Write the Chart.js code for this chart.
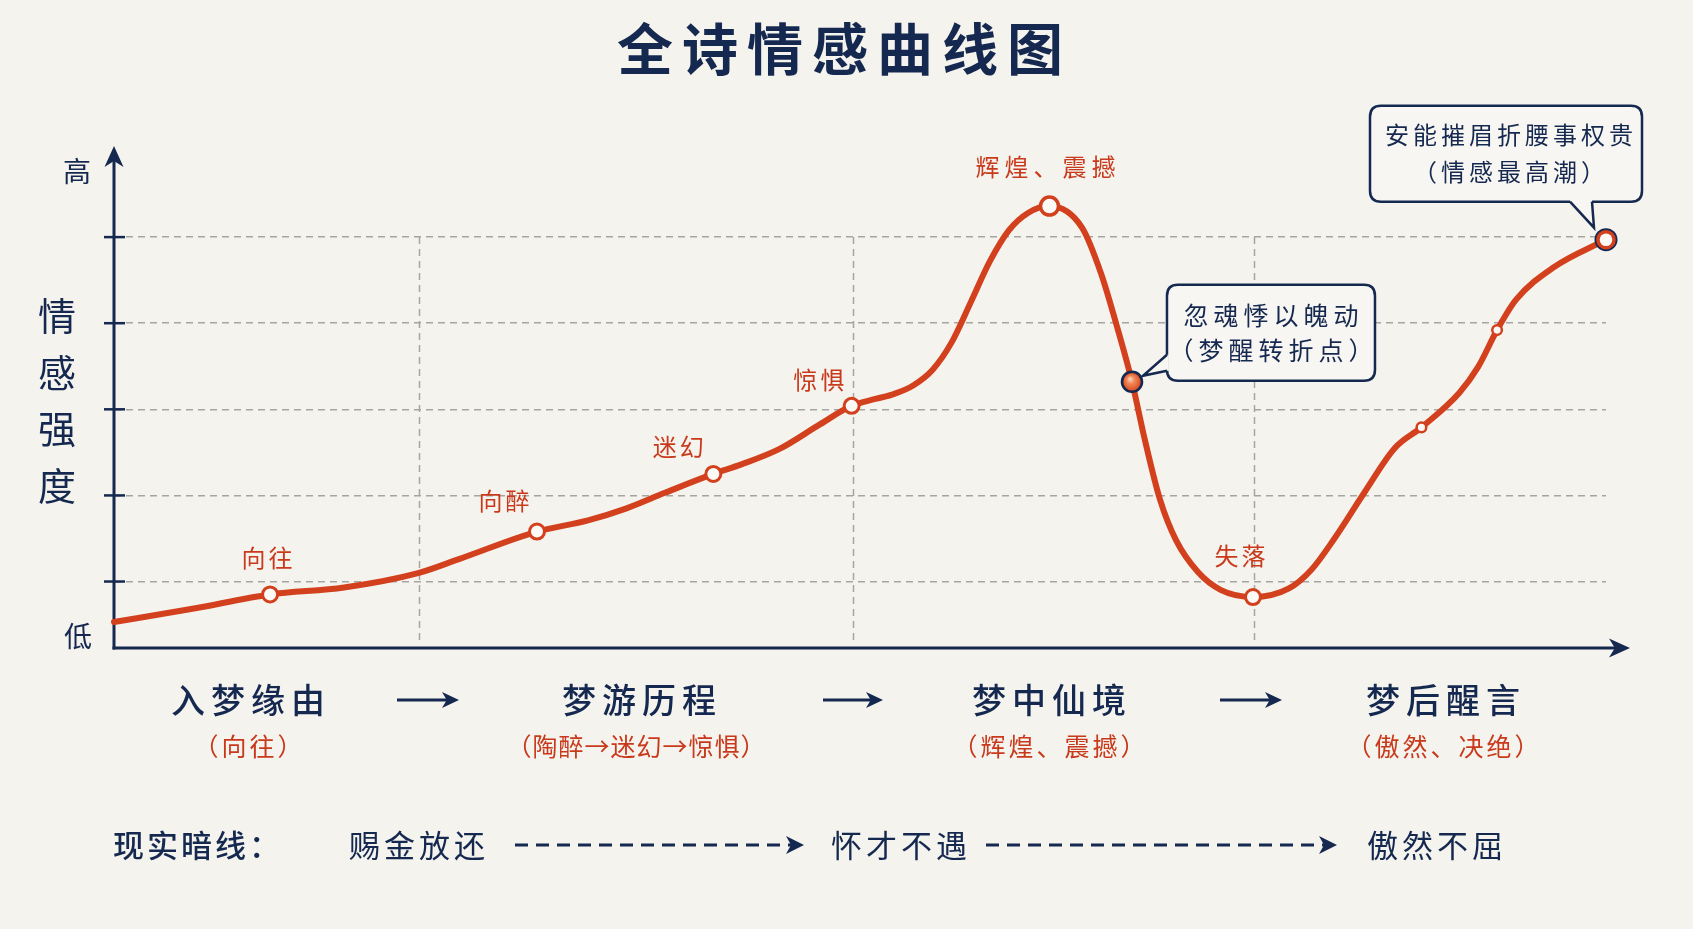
<!DOCTYPE html>
<html lang="zh-CN">
<head>
<meta charset="utf-8">
<title>全诗情感曲线图</title>
<script src="https://cdn.jsdelivr.net/npm/chart.js@4.4.1/dist/chart.umd.min.js"></script>
<style>
html,body{margin:0;padding:0;background:#f4f3ee;overflow:hidden;}
canvas{display:block;}
</style>
</head>
<body>
<canvas id="c" width="1693" height="929"></canvas>
<script>
// ---------------- data ----------------
const chartTitle = '全诗情感曲线图';
const yAxisTitle = ['情', '感', '强', '度'];
const yHighLabel = '高';
const yLowLabel = '低';

// emotional curve, progress of the poem (0–100) vs. intensity
const progress = [0, 5.16, 10.46, 15.42, 20.44, 23.12, 28.35, 31.77, 34.35, 36.92,
  40.17, 42.05, 44.61, 47.18, 49.44, 51.03, 52.3, 53.59, 54.87, 56.15,
  57.44, 58.71, 59.99, 61.26, 62.70, 64.88, 66.15, 67.16, 68.23, 69.1,
  70.11, 71.18, 72.65, 74.2, 76.34, 78.75, 80.27, 81.8, 83.83, 85.85,
  87.63, 90.16, 91.42, 92.7, 93.96, 96.5, 100];
const intensity = [0.53, 0.68, 0.85, 0.93, 1.10, 1.26, 1.58, 1.71, 1.85, 2.03,
  2.25, 2.36, 2.54, 2.81, 3.04, 3.12, 3.18, 3.28, 3.46, 3.78,
  4.25, 4.72, 5.08, 5.28, 5.36, 5.11, 4.58, 4.00, 3.32, 2.64,
  1.95, 1.48, 1.11, 0.90, 0.82, 0.92, 1.14, 1.50, 2.04, 2.55,
  2.79, 3.19, 3.49, 3.92, 4.27, 4.65, 4.97];

// key moments on the curve
const keyNames = ['向往', '向醉', '迷幻', '惊惧', '辉煌、震撼', '', '失落', '', '', ''];
const keyProgress = [10.46, 28.35, 40.17, 49.44, 62.70, 68.23, 76.34, 87.63, 92.7, 100];
const keyIntensity = [0.85, 1.58, 2.25, 3.04, 5.36, 3.32, 0.82, 2.79, 3.92, 4.97];

const turnNote = ['忽魂悸以魄动', '（梦醒转折点）'];
const climaxNote = ['安能摧眉折腰事权贵', '（情感最高潮）'];

const gridLevels = [1, 2, 3, 4, 5];
const stageBounds = [20.44, 49.53, 76.4];
const stageNames = ['入梦缘由', '梦游历程', '梦中仙境', '梦后醒言'];
const stageMoods = ['（向往）', '（陶醉→迷幻→惊惧）', '（辉煌、震撼）', '（傲然、决绝）'];
const realityLabel = '现实暗线：';
const realitySteps = ['赐金放还', '怀才不遇', '傲然不屈'];

// ---------------- style ----------------
const FONT = '"Noto Sans CJK SC", "Noto Sans", sans-serif';
const NAVY = '#15284f';
const RED = '#d3401d';
const LABEL_RED = '#c93a1c';
const GRID = '#a5a5a2';
const PAPER = '#f4f3ee';
const BOX_FILL = '#f7f6f2';

function txt(ctx, s, x, y, size, color, weight, spacing, align) {
  ctx.save();
  ctx.font = (weight || 'normal') + ' ' + size + 'px ' + FONT;
  ctx.fillStyle = color;
  ctx.textAlign = align || 'center';
  ctx.textBaseline = 'middle';
  const sp = spacing || 0;
  ctx.letterSpacing = sp + 'px';
  const dx = (align === 'left') ? 0 : sp / 2;
  ctx.fillText(s, x + dx, y);
  ctx.restore();
}

function arrow(ctx, x1, y1, x2, y2, o) {
  const ang = Math.atan2(y2 - y1, x2 - x1);
  const L = o.head, W = o.half;
  ctx.save();
  ctx.strokeStyle = NAVY; ctx.fillStyle = NAVY;
  ctx.lineWidth = o.lw;
  ctx.setLineDash(o.dash || []);
  ctx.beginPath();
  ctx.moveTo(x1, y1);
  ctx.lineTo(x2 - Math.cos(ang) * L * 0.7, y2 - Math.sin(ang) * L * 0.7);
  ctx.stroke();
  ctx.setLineDash([]);
  ctx.translate(x2, y2); ctx.rotate(ang);
  ctx.beginPath();
  ctx.moveTo(0, 0); ctx.lineTo(-L, -W); ctx.lineTo(-L * 0.72, 0); ctx.lineTo(-L, W);
  ctx.closePath(); ctx.fill();
  ctx.restore();
}

function roundRect(ctx, l, t, r, b, rad) {
  ctx.beginPath();
  ctx.moveTo(l + rad, t);
  ctx.lineTo(r - rad, t); ctx.quadraticCurveTo(r, t, r, t + rad);
  ctx.lineTo(r, b - rad); ctx.quadraticCurveTo(r, b, r - rad, b);
  ctx.lineTo(l + rad, b); ctx.quadraticCurveTo(l, b, l, b - rad);
  ctx.lineTo(l, t + rad); ctx.quadraticCurveTo(l, t, l + rad, t);
  ctx.closePath();
}

function callout(ctx, box, tail, lines, size, spacing) {
  ctx.save();
  ctx.lineWidth = 2.5; ctx.strokeStyle = NAVY; ctx.fillStyle = BOX_FILL;
  roundRect(ctx, box.l, box.t, box.r, box.b, 11);
  ctx.fill(); ctx.stroke();
  ctx.beginPath();
  ctx.moveTo(tail[0][0], tail[0][1]); ctx.lineTo(tail[1][0], tail[1][1]); ctx.lineTo(tail[2][0], tail[2][1]);
  ctx.closePath(); ctx.fill();
  ctx.beginPath();
  ctx.moveTo(tail[0][0], tail[0][1]); ctx.lineTo(tail[2][0], tail[2][1]);
  ctx.lineWidth = 3.5; ctx.strokeStyle = BOX_FILL; ctx.stroke();
  ctx.beginPath();
  ctx.moveTo(tail[0][0], tail[0][1]); ctx.lineTo(tail[1][0], tail[1][1]); ctx.lineTo(tail[2][0], tail[2][1]);
  ctx.lineWidth = 2.5; ctx.strokeStyle = NAVY; ctx.lineJoin = 'miter'; ctx.stroke();
  ctx.restore();
  const cx = (box.l + box.r) / 2;
  txt(ctx, lines[0], cx + lines.dx, lines.y0, size, NAVY, 'normal', spacing);
  txt(ctx, lines[1], cx + lines.dx, lines.y1, size, NAVY, 'normal', spacing);
}

// label offsets relative to marker centre (layout only)
const labelOffsets = [[-3, -37], [-33, -31], [-35, -27], [-33, -26], [-4, -39], [0, 0], [-13, -41], [0, 0], [0, 0], [0, 0]];

const decorPlugin = {
  id: 'decor',
  beforeDraw(chart) {
    const ctx = chart.ctx;
    ctx.save();
    ctx.fillStyle = PAPER;
    ctx.fillRect(0, 0, chart.width, chart.height);
    ctx.restore();
  },
  beforeDatasetsDraw(chart) {
    const ctx = chart.ctx;
    const xs = chart.scales.x, ys = chart.scales.y;
    const area = chart.chartArea;
    ctx.save();
    ctx.strokeStyle = GRID; ctx.lineWidth = 1.5; ctx.setLineDash([7, 5]);
    stageBounds.forEach(v => {
      const px = Math.round(xs.getPixelForValue(v)) + 0.5;
      ctx.beginPath();
      ctx.moveTo(px, ys.getPixelForValue(gridLevels[gridLevels.length - 1]));
      ctx.lineTo(px, area.bottom - 8);
      ctx.stroke();
    });
    ctx.restore();
    const ox = xs.getPixelForValue(xs.min), oy = ys.getPixelForValue(ys.min);
    arrow(ctx, ox, oy + 1.5, ox, area.top, { lw: 3, head: 21, half: 9.5 });
    arrow(ctx, ox - 1.5, oy, xs.getPixelForValue(xs.max) + 24, oy, { lw: 3, head: 21, half: 9.5 });
    ctx.save();
    ctx.strokeStyle = NAVY; ctx.lineWidth = 2.5;
    gridLevels.forEach(v => {
      const py = ys.getPixelForValue(v);
      ctx.beginPath(); ctx.moveTo(ox - 10, py); ctx.lineTo(ox + 11, py); ctx.stroke();
    });
    ctx.restore();
  },
  afterDatasetsDraw(chart) {
    const ctx = chart.ctx;
    const meta = chart.getDatasetMeta(0);
    const pts = meta.data;

    // turning point marker
    const tp = pts[5];
    ctx.save();
    const g = ctx.createRadialGradient(tp.x - 2, tp.y - 3, 0.5, tp.x, tp.y, 10);
    g.addColorStop(0, '#fcd2b8');
    g.addColorStop(0.35, '#f08a5c');
    g.addColorStop(0.8, '#e2592c');
    g.addColorStop(1, '#d24a20');
    ctx.beginPath(); ctx.arc(tp.x, tp.y, 10, 0, Math.PI * 2);
    ctx.fillStyle = g; ctx.fill();
    ctx.lineWidth = 2.6; ctx.strokeStyle = NAVY; ctx.stroke();
    ctx.restore();

    // climax end marker
    const ep = pts[9];
    ctx.save();
    ctx.beginPath(); ctx.arc(ep.x, ep.y, 11.5, 0, Math.PI * 2); ctx.fillStyle = NAVY; ctx.fill();
    ctx.beginPath(); ctx.arc(ep.x, ep.y, 9.8, 0, Math.PI * 2); ctx.fillStyle = RED; ctx.fill();
    ctx.beginPath(); ctx.arc(ep.x, ep.y, 6.3, 0, Math.PI * 2); ctx.fillStyle = '#fbfaf6'; ctx.fill();
    ctx.restore();

    keyNames.forEach((n, i) => {
      if (!n) return;
      const p = pts[i];
      const sp = n.length > 2 ? 5 : 3;
      txt(ctx, n, p.x + labelOffsets[i][0], p.y + labelOffsets[i][1], 24, LABEL_RED, 'normal', sp);
    });

    callout(ctx,
      { l: tp.x + 35, t: tp.y - 97, r: tp.x + 243, b: tp.y - 1 },
      [[tp.x + 35, tp.y - 27], [tp.x + 11, tp.y - 6], [tp.x + 35, tp.y - 11]],
      Object.assign(turnNote.slice(), { y0: tp.y - 66, y1: tp.y - 31, dx: 0 }), 25, 5);
    callout(ctx,
      { l: ep.x - 236, t: ep.y - 134, r: ep.x + 36, b: ep.y - 38 },
      [[ep.x - 36, ep.y - 38], [ep.x - 12, ep.y - 12], [ep.x - 14, ep.y - 38]],
      Object.assign(climaxNote.slice(), { y0: ep.y - 105, y1: ep.y - 68, dx: 3 }), 24, 4);
  },
  afterDraw(chart) {
    const ctx = chart.ctx;
    txt(ctx, chartTitle, 840, 49, 56, NAVY, 'bold', 9);
    txt(ctx, yHighLabel, 77, 171, 28, NAVY, 'normal', 0);
    txt(ctx, yLowLabel, 78, 636, 28, NAVY, 'normal', 0);
    yAxisTitle.forEach((c, i) => txt(ctx, c, 57, 316 + i * 56.5, 38, NAVY, 'normal', 0));

    const stageX = [248, 639, 1049, 1443];
    const stageArrows = [[397, 459], [823, 883], [1220, 1282]];
    stageNames.forEach((s, i) => {
      txt(ctx, s, stageX[i], 700, 34, NAVY, '500', 6);
      txt(ctx, stageMoods[i], stageX[i] - (i === 1 ? 3 : 0), 746, 25, LABEL_RED, 'normal', i === 1 ? 1 : 3);
    });
    stageArrows.forEach(a => arrow(ctx, a[0], 700, a[1], 700, { lw: 3, head: 17, half: 8 }));

    txt(ctx, realityLabel, 113, 845, 31, NAVY, '500', 3, 'left');
    const rx = [417, 899, 1435];
    realitySteps.forEach((s, i) => txt(ctx, s, rx[i], 845, 31, NAVY, 'normal', 4));
    arrow(ctx, 515, 845, 804, 845, { lw: 3, head: 18, half: 9, dash: [13, 8] });
    arrow(ctx, 986, 845, 1337, 845, { lw: 3, head: 18, half: 9, dash: [13, 8] });
  }
};

const ctxEl = document.getElementById('c');
new Chart(ctxEl, {
  type: 'line',
  data: {
    datasets: [
      {
        label: '关键节点',
        data: keyProgress.map((x, i) => ({ x: x, y: keyIntensity[i] })),
        showLine: false,
        order: 0,
        clip: false,
        pointBackgroundColor: '#fbfaf6',
        pointBorderColor: RED,
        pointRadius: c => [7.5, 7.5, 7.5, 7.5, 9, 0, 7.5, 4.8, 4.8, 0][c.dataIndex],
        pointBorderWidth: c => [3, 3, 3, 3, 3.5, 0, 3, 2.5, 2.5, 0][c.dataIndex]
      },
      {
        label: '情感曲线',
        data: progress.map((x, i) => ({ x: x, y: intensity[i] })),
        borderColor: RED,
        borderWidth: 6,
        pointRadius: 0,
        fill: false,
        order: 1,
        clip: false,
        cubicInterpolationMode: 'monotone',
        borderCapStyle: 'round',
        borderJoinStyle: 'round'
      }
    ]
  },
  options: {
    responsive: false,
    animation: false,
    events: [],
    layout: { padding: { left: 114, right: 87, top: 146, bottom: 281 } },
    plugins: { legend: { display: false }, tooltip: { enabled: false }, title: { display: false } },
    scales: {
      x: { type: 'linear', min: 0, max: 100, display: false },
      y: {
        type: 'linear', min: 0.228, max: 6.058, display: true,
        afterBuildTicks: s => { s.ticks = gridLevels.map(v => ({ value: v })); },
        ticks: { display: false },
        grid: { drawTicks: false, color: GRID, lineWidth: 1.5 },
        border: { display: false, dash: [7, 5] }
      }
    }
  },
  plugins: [decorPlugin]
});
</script>
</body>
</html>
